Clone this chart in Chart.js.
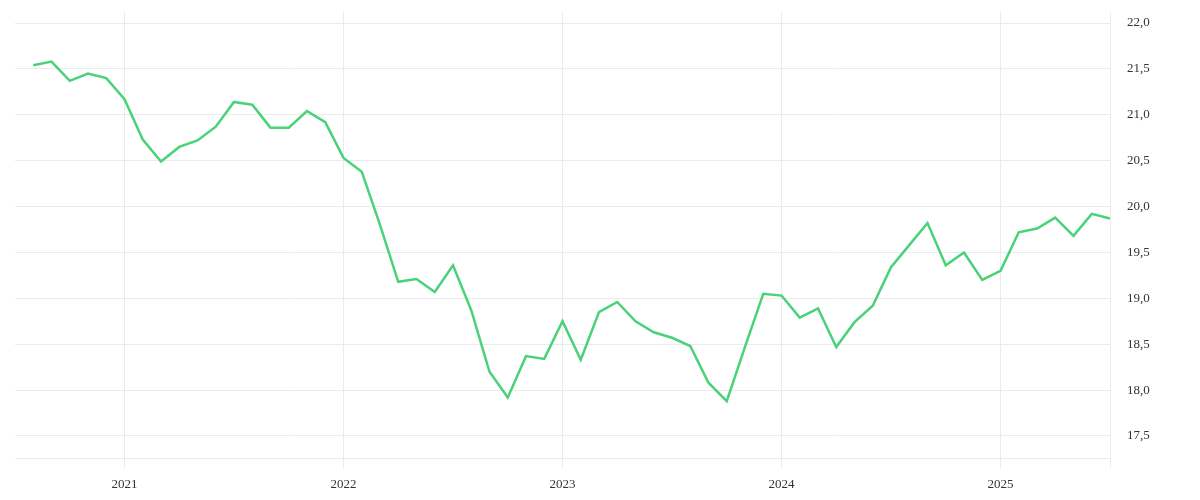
<!DOCTYPE html>
<html>
<head>
<meta charset="utf-8">
<script src="https://cdn.jsdelivr.net/npm/chart.js@4"></script>
<style>
  html, body { margin: 0; padding: 0; background: #fff; }
  #wrap { width: 1200px; height: 500px; }
</style>
</head>
<body>
<div id="wrap"><canvas id="chart"></canvas></div>
<script>
// months from Jul 2020 to Jul 2025 (first one is only the left edge)
const months = [
    '2020-07', '2020-08', '2020-09', '2020-10', '2020-11', '2020-12',
    '2021-01', '2021-02', '2021-03', '2021-04', '2021-05', '2021-06',
    '2021-07', '2021-08', '2021-09', '2021-10', '2021-11', '2021-12',
    '2022-01', '2022-02', '2022-03', '2022-04', '2022-05', '2022-06',
    '2022-07', '2022-08', '2022-09', '2022-10', '2022-11', '2022-12',
    '2023-01', '2023-02', '2023-03', '2023-04', '2023-05', '2023-06',
    '2023-07', '2023-08', '2023-09', '2023-10', '2023-11', '2023-12',
    '2024-01', '2024-02', '2024-03', '2024-04', '2024-05', '2024-06',
    '2024-07', '2024-08', '2024-09', '2024-10', '2024-11', '2024-12',
    '2025-01', '2025-02', '2025-03', '2025-04', '2025-05', '2025-06',
    '2025-07'
];

const values = [
    null, 21.54, 21.58, 21.37, 21.45, 21.40,
    21.17, 20.73, 20.49, 20.65, 20.72, 20.87,
    21.14, 21.11, 20.86, 20.86, 21.04, 20.92,
    20.53, 20.38, 19.80, 19.18, 19.21, 19.07,
    19.36, 18.87, 18.20, 17.92, 18.37, 18.34,
    18.75, 18.33, 18.85, 18.96, 18.75, 18.63,
    18.57, 18.48, 18.08, 17.88, 18.47, 19.05,
    19.03, 18.79, 18.89, 18.47, 18.74, 18.92,
    19.34, 19.58, 19.82, 19.36, 19.50, 19.20,
    19.30, 19.72, 19.76, 19.88, 19.68, 19.92,
    19.87
];

const yTicks = [17.5, 18.0, 18.5, 19.0, 19.5, 20.0, 20.5, 21.0, 21.5, 22.0];
const yMin = 17.26;
const yMax = 22.12;

const gridColor = '#ebebeb';
const lineColor = '#4ad27a';

function isYearStart(index) {
    return months[index] && months[index].slice(5) === '01';
}

function xGridColor(ctx) {
    const i = ctx.index;
    if (isYearStart(i) || i === months.length - 1) return gridColor;
    return 'rgba(0,0,0,0)';
}

const ctx = document.getElementById('chart').getContext('2d');

new Chart(ctx, {
    type: 'line',
    data: {
        labels: months,
        datasets: [{
            data: values,
            borderColor: lineColor,
            borderWidth: 2.5,
            pointRadius: 0,
            tension: 0,
            fill: false
        }]
    },
    options: {
        responsive: true,
        maintainAspectRatio: false,
        animation: false,
        layout: {
            padding: { top: 12, left: 15, right: 0, bottom: 0 }
        },
        plugins: {
            legend: { display: false },
            tooltip: { enabled: false }
        },
        scales: {
            x: {
                grid: {
                    color: xGridColor,
                    tickColor: xGridColor,
                    tickLength: 10,
                    lineWidth: 1
                },
                border: { display: true, color: gridColor },
                ticks: {
                    autoSkip: false,
                    maxRotation: 0,
                    padding: 9,
                    color: '#333',
                    font: { family: '"Liberation Serif", serif', size: 13 },
                    callback: function(val, index) {
                        return isYearStart(index) ? months[index].slice(0, 4) : '';
                    }
                },
                afterFit: function(scale) {
                    scale.height = 42;
                    scale.paddingLeft = 0;
                    scale.paddingRight = 0;
                }
            },
            y: {
                position: 'right',
                min: yMin,
                max: yMax,
                grid: {
                    color: gridColor,
                    drawTicks: false
                },
                border: { display: false },
                ticks: {
                    padding: 17,
                    color: '#333',
                    font: { family: '"Liberation Serif", serif', size: 13 },
                    callback: function(val) {
                        return val.toFixed(1).replace('.', ',');
                    }
                },
                afterBuildTicks: function(scale) {
                    scale.ticks = yTicks.map(v => ({ value: v }));
                },
                afterFit: function(scale) {
                    scale.width = 90;
                    scale.paddingTop = 0;
                    scale.paddingBottom = 0;
                }
            }
        }
    }
});
</script>
</body>
</html>
